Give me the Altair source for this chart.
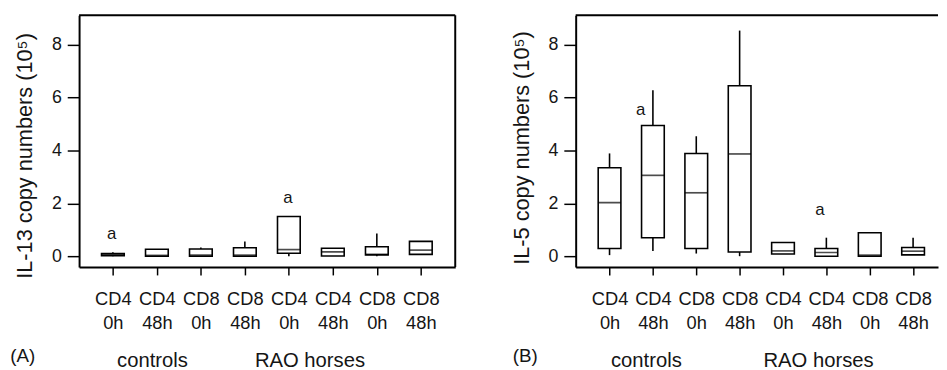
import altair as alt
import pandas as pd

# ---------------- data ----------------
positions = [1, 2, 3, 4, 5, 6, 7, 8]
cells = ["CD4", "CD4", "CD8", "CD8", "CD4", "CD4", "CD8", "CD8"]
times = ["0h", "48h", "0h", "48h", "0h", "48h", "0h", "48h"]
groups = ["controls", "RAO horses"]

# Panel A: IL-13 copy numbers (10^5)
il13_low = [0.00, 0.00, 0.00, 0.00, 0.00, 0.01, 0.00, 0.07]
il13_q1 = [0.02, 0.00, 0.00, 0.00, 0.11, 0.01, 0.05, 0.07]
il13_med = [0.05, 0.03, 0.04, 0.04, 0.25, 0.16, 0.07, 0.23]
il13_q3 = [0.10, 0.26, 0.27, 0.32, 1.50, 0.30, 0.36, 0.56]
il13_high = [0.15, 0.26, 0.33, 0.56, 1.50, 0.30, 0.86, 0.56]
il13_ann_x = [0.97, 4.98]
il13_ann_y = [0.64, 2.02]
il13_group_x = [1.90, 5.48]

# Panel B: IL-5 copy numbers (10^5)
il5_low = [0.04, 0.20, 0.10, 0.00, 0.08, 0.00, 0.00, 0.05]
il5_q1 = [0.29, 0.70, 0.29, 0.16, 0.08, 0.00, 0.00, 0.05]
il5_med = [2.03, 3.06, 2.40, 3.87, 0.20, 0.14, 0.04, 0.19]
il5_q3 = [3.35, 4.95, 3.89, 6.45, 0.52, 0.29, 0.89, 0.33]
il5_high = [3.89, 6.28, 4.54, 8.54, 0.52, 0.70, 0.89, 0.70]
il5_ann_x = [1.72, 5.85]
il5_ann_y = [5.36, 1.55]
il5_group_x = [1.85, 5.82]

FONT = "Liberation Sans"
TXT = "#151515"
H = 255
Y_DOMAIN = [-0.41, 9.12]

label_expr = "[" + ",".join(f"['{c}','{t}']" for c, t in zip(cells, times)) + "][datum.value - 1]"


def panel(low, q1, med, q3, high, title, title_y, x_domain, W, ann_x, ann_y, grp_x,
          plabel, plabel_x, right_border):
    df = pd.DataFrame({"pos": positions, "low": low, "q1": q1, "med": med,
                       "q3": q3, "high": high})
    ann_df = pd.DataFrame({"x": ann_x, "y": ann_y, "t": ["a"] * len(ann_x)})
    grp_df = pd.DataFrame({"x": grp_x, "g": groups})

    xscale = alt.Scale(domain=x_domain, nice=False, zero=False)
    yscale = alt.Scale(domain=Y_DOMAIN, nice=False, zero=False)
    xaxis = alt.Axis(values=positions, labelExpr=label_expr, title=None, grid=False,
                     tickSize=8, tickWidth=1.5, tickColor="black",
                     domainWidth=2, domainColor="black",
                     labelPadding=15, labelLineHeight=24, labelFontSize=18.5,
                     labelFont=FONT, labelColor=TXT, labelAngle=0,
                     labelFlush=False, labelOverlap=False)
    yaxis = alt.Axis(values=[0, 2, 4, 6, 8], title=title, grid=False,
                     tickSize=12, tickWidth=1.5, tickColor="black",
                     domainWidth=2, domainColor="black",
                     labelPadding=6, labelFontSize=18, labelFont=FONT, labelColor=TXT,
                     titleFont=FONT, titleFontSize=22, titleFontWeight="normal",
                     titleColor=TXT, titlePadding=15, titleY=title_y)

    def X(field):
        return alt.X(field, type="quantitative", scale=xscale, axis=xaxis)

    def Y(field):
        return alt.Y(field, type="quantitative", scale=yscale, axis=yaxis)

    whisker = alt.Chart(df).mark_rule(color="black", strokeWidth=1.6).encode(
        x=X("pos"), y=Y("low"), y2="high")
    box = alt.Chart(df).mark_bar(size=23, fill="white", stroke="black",
                                 strokeWidth=1.6).encode(
        x=X("pos"), y=Y("q1"), y2="q3")
    median = alt.Chart(df).mark_tick(orient="horizontal", size=23, thickness=1.7,
                                     color="black").encode(x=X("pos"), y=Y("med"))
    ann = alt.Chart(ann_df).mark_text(font=FONT, fontSize=17, color=TXT,
                                      baseline="alphabetic").encode(
        x=X("x"), y=Y("y"), text="t:N")
    grp = alt.Chart(grp_df).mark_text(font=FONT, fontSize=20.5, color=TXT,
                                      baseline="alphabetic").encode(
        x=X("x"), y=alt.value(H + 101), text="g:N")
    pl = alt.Chart(pd.DataFrame({"t": [plabel]})).mark_text(
        font=FONT, fontSize=19, color=TXT, baseline="alphabetic").encode(
        x=alt.value(plabel_x), y=alt.value(H + 96), text="t:N")
    one = pd.DataFrame({"k": [0]})
    top = alt.Chart(one).mark_rule(color="black", strokeWidth=2).encode(
        x=alt.value(0), x2=alt.value(W), y=alt.value(0))
    layers = [whisker, box, median, ann, grp, pl, top]
    if right_border:
        layers.append(alt.Chart(one).mark_rule(color="black", strokeWidth=2).encode(
            x=alt.value(W), y=alt.value(0), y2=alt.value(H)))
    return alt.layer(*layers).properties(width=W, height=H)


pa = panel(il13_low, il13_q1, il13_med, il13_q3, il13_high,
           "IL-13 copy numbers (10⁵)", 142, [0.344, 8.67], 381,
           il13_ann_x, il13_ann_y, il13_group_x, "(A)", -57, True)
pb = panel(il5_low, il5_q1, il5_med, il5_q3, il5_high,
           "IL-5 copy numbers (10⁵)", 134, [0.333, 8.461], 367,
           il5_ann_x, il5_ann_y, il5_group_x, "(B)", -51, False)

chart = alt.hconcat(pa, pb, spacing=54).properties(
    padding={"left": 2, "top": 4, "right": 0, "bottom": 0}
).configure_view(stroke=None)

chart.save("out.html", embed_options={"renderer": "svg", "actions": False})
